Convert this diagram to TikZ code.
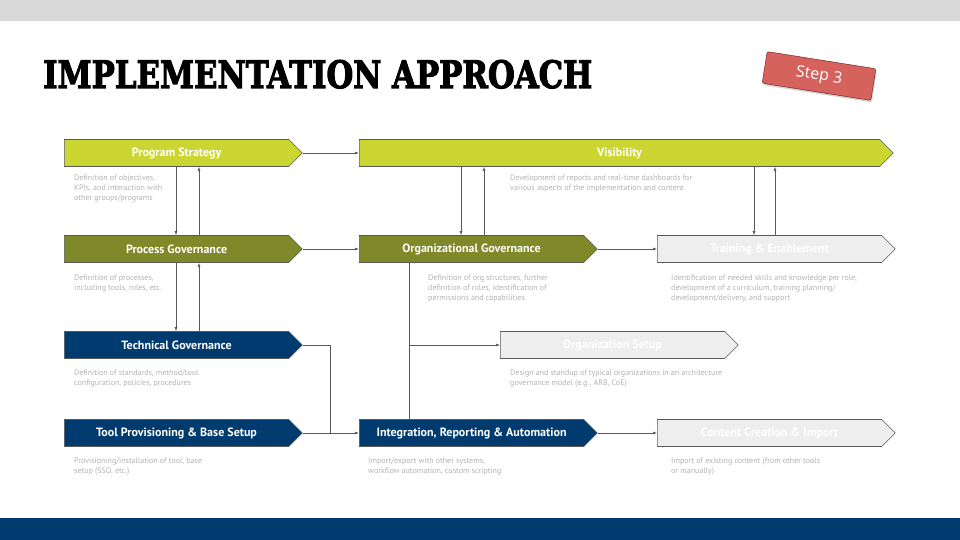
\documentclass[tikz,border=0pt]{standalone}
\usepackage{graphicx}
\usepackage{fontspec}
\setmainfont{PT Sans}
\newfontfamily\titlefont[BoldFeatures={FakeBold=3}]{DejaVu Serif}
\newfontfamily\badgefont{Open Sans}
\usetikzlibrary{arrows.meta,shapes.symbols,shadows}
\definecolor{ea_lime}{RGB}{204,214,51}
\definecolor{ea_olive}{RGB}{127,137,41}
\definecolor{ea_navy}{RGB}{0,59,112}
\definecolor{ea_pale}{RGB}{238,238,238}
\definecolor{ea_line}{RGB}{89,89,89}
\definecolor{ea_text}{RGB}{178,178,178}
\definecolor{ea_band}{RGB}{217,217,217}
\definecolor{ea_red}{RGB}{214,98,94}
\definecolor{ea_darkred}{RGB}{120,40,38}
\tikzstyle{phase}=[signal,signal to=east,signal pointer angle=90,draw=ea_line,
  line width=0.6pt,minimum width=238pt,minimum height=27pt,inner sep=0pt,
  anchor=west,text=white,font=\bfseries\fontsize{12}{14}\selectfont]
\tikzstyle{ln}=[phase,fill=ea_lime]
\tikzstyle{on}=[phase,fill=ea_olive]
\tikzstyle{bn}=[phase,fill=ea_navy]
\tikzstyle{wn}=[phase,fill=ea_pale]
\tikzstyle{dn}=[anchor=north west,inner sep=0pt,align=left,text=ea_text,
  font=\fontsize{8}{9.9}\selectfont]
\tikzstyle{arr}=[draw=ea_line,line width=0.6pt,-{Latex[length=4pt,width=3pt]}]
\tikzstyle{ln_plain}=[draw=ea_line,line width=0.6pt]
\tikzstyle{stepbadge}=[rectangle,rounded corners=2pt,fill=ea_red,draw=ea_darkred,
  line width=0.5pt,minimum width=110pt,minimum height=32pt,rotate=-9,text=white,
  font=\badgefont\fontsize{16}{18}\selectfont,
  drop shadow={shadow xshift=1pt,shadow yshift=-2pt,opacity=0.35}]

\begin{document}
\begin{tikzpicture}[x=1pt,y=-1pt]
            \useasboundingbox (0,0) rectangle (960,540);
            \fill[ea_band] (0,0) rectangle (960,21);
            \fill[ea_navy] (0,518) rectangle (960,540);
            \node [anchor=base west,inner sep=0pt] (title) at (43,88)
                {\resizebox{549pt}{28pt}{\titlefont\bfseries IMPLEMENTATION APPROACH}};
            \node [stepbadge] (step3) at (819,76) {Step 3};
            % phases
            \node [style=ln] (ps) at (64,153) {Program Strategy};
            \node [style=ln,minimum width=534pt] (vis) at (359,153) {Visibility};
            \node [style=on] (pg) at (64,249) {Process Governance};
            \node [style=on] (og) at (359,249) {Organizational Governance};
            \node [style=wn] (te) at (657,249) {Training \& Enablement};
            \node [style=bn] (tg) at (64,345) {Technical Governance};
            \node [style=wn] (os) at (500,345) {Organization Setup};
            \node [style=bn] (tp) at (64,433) {Tool Provisioning \& Base Setup};
            \node [style=bn] (ira) at (359,433) {Integration, Reporting \& Automation};
            \node [style=wn] (cc) at (657,433) {Content Creation \& Import};
            % descriptions
            \node [style=dn] (ps_d) at (74,175) {Definition of objectives,\\KPIs, and interaction with\\other groups/programs};
            \node [style=dn] (vis_d) at (510,175) {Development of reports and real-time dashboards for\\various aspects of the implementation and content};
            \node [style=dn] (pg_d) at (74,275) {Definition of processes,\\including tools, roles, etc.};
            \node [style=dn] (og_d) at (428,275) {Definition of org structures, further\\definition of roles, identification of\\permissions and capabilities};
            \node [style=dn] (te_d) at (671,275) {Identification of needed skills and knowledge per role,\\development of a curriculum, training planning/\\development/delivery, and support};
            \node [style=dn] (tg_d) at (74,370) {Definition of standards, method/tool\\configuration, policies, procedures};
            \node [style=dn] (os_d) at (510,370) {Design and standup of typical organizations in an architecture\\governance model (e.g., ARB, CoE)};
            \node [style=dn] (tp_d) at (74,458) {Provisioning/installation of tool, base\\setup (SSO, etc.)};
            \node [style=dn] (ira_d) at (368,458) {Import/export with other systems,\\workflow automation, custom scripting};
            \node [style=dn] (cc_d) at (671,458) {Import of existing content (from other tools\\or manually)};
            % columns for the vertical links
            \coordinate (xa) at (176,0);
            \coordinate (xb) at (199,0);
            \coordinate (xc) at (461,0);
            \coordinate (xd) at (484,0);
            \coordinate (xe) at (754,0);
            \coordinate (xf) at (775,0);
            \coordinate (xg) at (409,0);
            \coordinate (tj) at (330,433);
            \draw [style=arr] (ps.east) to (vis.west);
            \draw [style=arr] (pg.east) to (og.west);
            \draw [style=arr] (og.east) to (te.west);
            \draw [style=arr] (tp.east) to (ira.west);
            \draw [style=arr] (ira.east) to (cc.west);
            \draw [style=arr] (ps.south -| xa) to (pg.north -| xa);
            \draw [style=arr] (pg.north -| xb) to (ps.south -| xb);
            \draw [style=arr] (pg.south -| xa) to (tg.north -| xa);
            \draw [style=arr] (tg.north -| xb) to (pg.south -| xb);
            \draw [style=arr] (vis.south -| xc) to (og.north -| xc);
            \draw [style=arr] (og.north -| xd) to (vis.south -| xd);
            \draw [style=arr] (vis.south -| xe) to (te.north -| xe);
            \draw [style=arr] (te.north -| xf) to (vis.south -| xf);
            \draw [style=ln_plain] (og.south -| xg) to (ira.north -| xg);
            \draw [style=arr] (os.west -| xg) to (os.west);
            \draw [style=ln_plain] (tg.east) -| (tj);
    \end{tikzpicture}
\end{document}
